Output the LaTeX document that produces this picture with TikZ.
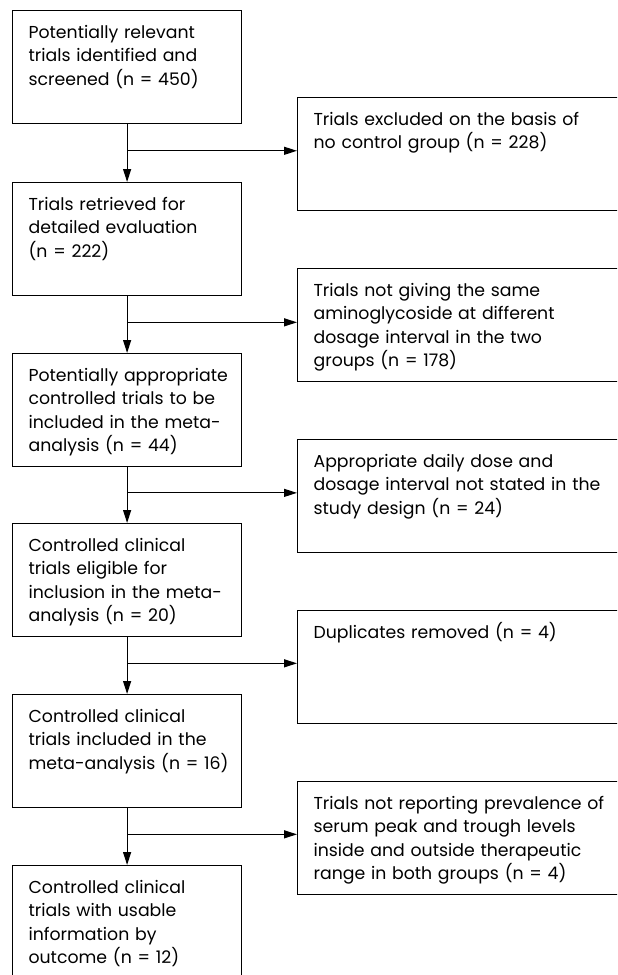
\documentclass[tikz,border=0pt]{standalone}
\usepackage{fontspec}
\setmainfont{Poppins}
\usetikzlibrary{arrows.meta}

\begin{document}
\begin{tikzpicture}[
    x=0.5pt, y=-0.5pt,
    box/.style={draw, anchor=north west, inner xsep=0pt, inner ysep=0pt,
        text height=14pt, text depth=42.5pt, align=left,
        execute at begin node={\leftskip=8pt\relax},
        font=\fontsize{8.65}{11.65}\selectfont, line width=0.6pt},
    mainbox/.style={box, text width=114.5pt},
    sidebox/.style={box, text width=165pt},
    flow/.style={-{Triangle[length=6.5pt, width=4pt]}, line width=0.6pt}
]
    \clip (0,0) rectangle (617,975);

    % main column
    \node[mainbox] (screened) at (12,10) {Potentially relevant\\trials identified and\\screened (n = 450)};
    \node[mainbox] (retrieved) at (12,182) {Trials retrieved for\\detailed evaluation\\(n = 222)};
    \node[mainbox] (appropriate) at (12,353) {Potentially appropriate\\controlled trials to be\\included in the meta-\\analysis (n = 44)};
    \node[mainbox] (eligible) at (12,523) {Controlled clinical\\trials eligible for\\inclusion in the meta-\\analysis (n = 20)};
    \node[mainbox] (included) at (12,694) {Controlled clinical\\trials included in the\\meta-analysis (n = 16)};
    \node[mainbox] (usable) at (12,865) {Controlled clinical\\trials with usable\\information by\\outcome (n = 12)};

    % exclusions
    \node[sidebox] (nocontrol) at (297,97) {Trials excluded on the basis of\\no control group (n = 228)};
    \node[sidebox] (nosame) at (297,268) {Trials not giving the same\\aminoglycoside at different\\dosage interval in the two\\groups (n = 178)};
    \node[sidebox] (nodose) at (297,439) {Appropriate daily dose and\\dosage interval not stated in the\\study design (n = 24)};
    \node[sidebox] (duplicates) at (297,610) {Duplicates removed (n = 4)};
    \node[sidebox] (nolevels) at (297,781) {Trials not reporting prevalence of\\serum peak and trough levels\\inside and outside therapeutic\\range in both groups (n = 4)};

    % arrows
    \draw[flow] (screened) -- (retrieved) coordinate[pos=0.46] (s1);
    \draw[flow] (retrieved) -- (appropriate) coordinate[pos=0.46] (s2);
    \draw[flow] (appropriate) -- (eligible) coordinate[pos=0.46] (s3);
    \draw[flow] (eligible) -- (included) coordinate[pos=0.46] (s4);
    \draw[flow] (included) -- (usable) coordinate[pos=0.46] (s5);

    \draw[flow] (s1) -- (s1 -| nocontrol.west);
    \draw[flow] (s2) -- (s2 -| nosame.west);
    \draw[flow] (s3) -- (s3 -| nodose.west);
    \draw[flow] (s4) -- (s4 -| duplicates.west);
    \draw[flow] (s5) -- (s5 -| nolevels.west);
\end{tikzpicture}
\end{document}
